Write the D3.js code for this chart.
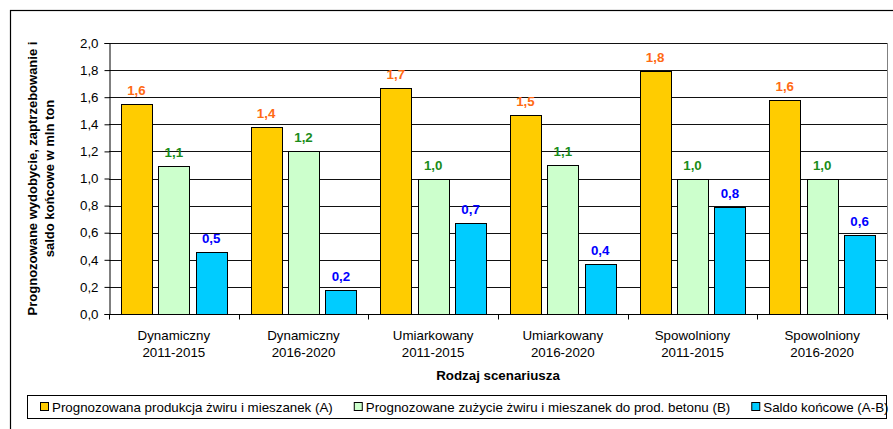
<!DOCTYPE html>
<html><head><meta charset="utf-8">
<script src="https://cdn.jsdelivr.net/npm/d3@7"></script>
<style>body{margin:0;background:#fff}svg{display:block;font-family:Arial,"Liberation Sans",sans-serif}</style>
</head><body>
<script>
const categories = [["Dynamiczny","2011-2015"],["Dynamiczny","2016-2020"],["Umiarkowany","2011-2015"],["Umiarkowany","2016-2020"],["Spowolniony","2011-2015"],["Spowolniony","2016-2020"]];
const seriesA = [1.55, 1.38, 1.67, 1.47, 1.79, 1.58];
const seriesB = [1.09, 1.20, 1.00, 1.10, 1.00, 1.00];
const seriesC = [0.46, 0.18, 0.67, 0.37, 0.79, 0.58];
const seriesNames = ["Prognozowana produkcja żwiru i mieszanek (A)","Prognozowane zużycie żwiru i mieszanek do prod. betonu (B)","Saldo końcowe (A-B)"];
const fills = ["#FFCC00","#CCFFCC","#00CCFF"];
const labelColors = ["#FF6A13","#1A8C1A","#0000FF"];
const yTicks = [0,0.2,0.4,0.6,0.8,1.0,1.2,1.4,1.6,1.8,2.0];
const yTitle = ["Prognozowane wydobycie, zaptrzebowanie i","saldo końcowe w mln ton"];
const xTitle = "Rodzaj scenariusza";

const W=893,H=429,FS=13.33;
const svg=d3.select("body").append("svg").attr("width",W).attr("height",H);
const fmt=v=>d3.format(".1f")(v).replace(".",",");
svg.append("rect").attr("x",10.5).attr("y",10.5).attr("width",W+10).attr("height",H+10).attr("fill","none").attr("stroke","#000").attr("stroke-width",1.2);

const L=109,R=887,T=43,B=314;
const keys=categories.map((c,i)=>i);
const x=d3.scaleBand().domain(keys).range([L,R]);
const xs=d3.scaleBand().domain([0,1,2]).range([0,x.bandwidth()]).paddingInner(0.173).paddingOuter(0.32);
const y=d3.scaleLinear().domain([0,2]).range([B,T]);

svg.append("g").selectAll("line").data(yTicks.filter(t=>t>0)).join("line")
 .attr("x1",L).attr("x2",R).attr("y1",d=>Math.round(y(d))+0.5).attr("y2",d=>Math.round(y(d))+0.5)
 .attr("stroke","#111").attr("stroke-width",1);
svg.append("line").attr("x1",R+0.5).attr("x2",R+0.5).attr("y1",T).attr("y2",B).attr("stroke","#808080");

const series=[seriesA,seriesB,seriesC];
series.forEach((s,si)=>{
  const g=svg.append("g");
  g.selectAll("rect").data(s).join("rect")
   .attr("x",(d,i)=>Math.round(x(i)+xs(si))+0.5)
   .attr("y",d=>Math.round(y(d))+0.5)
   .attr("width",Math.round(xs.bandwidth()))
   .attr("height",d=>B-Math.round(y(d)))
   .attr("fill",fills[si]).attr("stroke","#000").attr("stroke-width",1);
  g.selectAll("text").data(s).join("text")
   .attr("x",(d,i)=>x(i)+xs(si)+xs.bandwidth()/2)
   .attr("y",d=>y(d)-9)
   .attr("text-anchor","middle").attr("font-size",FS).attr("font-weight","bold")
   .attr("fill",labelColors[si]).text(d=>fmt(d));
});

const ya=svg.append("g").attr("transform",`translate(${L+0.5},0)`)
 .call(d3.axisLeft(y).tickValues(yTicks).tickFormat(fmt).tickSize(5).tickPadding(6));
ya.select(".domain").attr("stroke","#000");
ya.selectAll("line").attr("stroke","#000");
ya.selectAll("text").attr("font-size",FS).attr("font-family","Arial").attr("fill","#000");

const xa=svg.append("g").attr("transform",`translate(0,${B+0.5})`);
xa.append("line").attr("x1",L).attr("x2",R+1).attr("y1",0).attr("y2",0).attr("stroke","#000");
const bounds=keys.map(k=>x(k)).concat([R]);
xa.selectAll("line.t").data(bounds).join("line").attr("class","t")
 .attr("x1",d=>Math.round(d)+0.5).attr("x2",d=>Math.round(d)+0.5).attr("y1",0).attr("y2",5).attr("stroke","#000");
xa.selectAll("text").data(categories).join("text")
 .attr("x",(d,i)=>x(i)+x.bandwidth()/2).attr("y",25)
 .attr("text-anchor","middle").attr("font-size",FS)
 .each(function(d){const t=d3.select(this);
   t.append("tspan").attr("x",t.attr("x")).attr("dy",0).text(d[0]);
   t.append("tspan").attr("x",t.attr("x")).attr("dy",17).text(d[1]);});

svg.append("text").attr("x",(L+R)/2).attr("y",380).attr("text-anchor","middle")
 .attr("font-size",FS).attr("font-weight","bold").text(xTitle);

const yt=svg.append("text").attr("transform",`translate(37,${(T+B)/2}) rotate(-90)`)
 .attr("text-anchor","middle").attr("font-size",13).attr("font-weight","bold");
yTitle.forEach((l,i)=>yt.append("tspan").attr("x",0).attr("dy",i?17:0).text(l));

svg.append("rect").attr("x",27.5).attr("y",395.5).attr("width",859).attr("height",23)
 .attr("fill","#fff").attr("stroke","#000");
let lx=40;
seriesNames.forEach((n,i)=>{
  svg.append("rect").attr("x",lx+0.5).attr("y",402.5).attr("width",8).attr("height",8)
   .attr("fill",fills[i]).attr("stroke","#000");
  const t=svg.append("text").attr("x",lx+12).attr("y",411.5).attr("font-size",FS).text(n);
  lx+=12+t.node().getComputedTextLength()+21;
});
</script>
</body></html>
